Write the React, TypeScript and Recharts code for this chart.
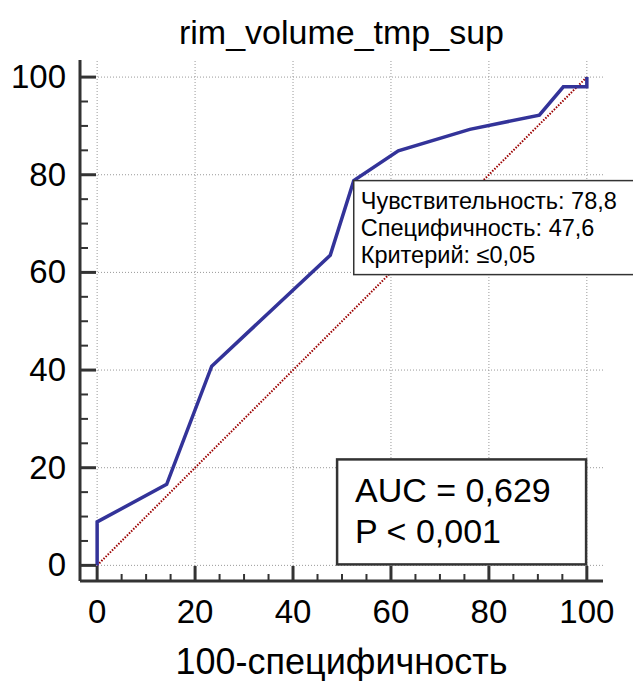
import React from "react";
import { LineChart, Line, XAxis, YAxis, ReferenceLine, ReferenceDot, Label } from "recharts";

// ROC curve: 100-specificity (x) vs sensitivity (y)
const rocX = [0, 0, 14.2, 23.4, 47.6, 52.4, 61.5, 76.1, 90.3, 95.2, 100, 100];
const rocY = [0, 8.9, 16.6, 40.8, 63.5, 78.8, 84.9, 89.3, 92.2, 98.0, 98.0, 100];

const majorTicks = [0, 20, 40, 60, 80, 100];
const allTicks = [0, 5, 10, 15, 20, 25, 30, 35, 40, 45, 50, 55, 60, 65, 70, 75, 80, 85, 90, 95, 100];

const title = "rim_volume_tmp_sup";
const xLabel = "100-специфичность";
const cutoffX = 52.4;
const cutoffY = 78.8;
const cutoffLines = ["Чувствительность: 78,8", "Специфичность: 47,6", "Критерий: ≤0,05"];
const aucLines = ["AUC = 0,629", "P < 0,001"];
const aucBoxX = 49;
const aucBoxY = 21.7;

const data = rocX.map((x, i) => ({ fpr: x, tpr: rocY[i] }));

const FONT = "'Liberation Sans', Arial, sans-serif";
const AXIS = "#333333";

function YTick(props: any) {
  const { x, y, payload } = props;
  const major = payload.value % 20 === 0;
  return (
    <g>
      <line x1={x} x2={x + (major ? 16 : 8)} y1={y} y2={y} stroke={AXIS} strokeWidth={major ? 3 : 2} />
      {major && (
        <text x={x - 14} y={y + 11} textAnchor="end" fontSize={33} fontFamily={FONT} fill="#000">
          {payload.value}
        </text>
      )}
    </g>
  );
}

function XTick(props: any) {
  const { x, y, payload } = props;
  const major = payload.value % 20 === 0;
  return (
    <g>
      <line x1={x} x2={x} y1={y} y2={y - (major ? 15 : 7)} stroke={AXIS} strokeWidth={major ? 3 : 2} />
      {major && (
        <text x={x} y={y + 42} textAnchor="middle" fontSize={33} fontFamily={FONT} fill="#000">
          {payload.value}
        </text>
      )}
    </g>
  );
}

function CutoffBox(props: any) {
  const { cx, cy } = props;
  return (
    <g>
      <rect x={cx} y={cy} width={300} height={94} fill="#fff" stroke={AXIS} strokeWidth={1.5} />
      {cutoffLines.map((t, i) => (
        <text key={i} x={cx + 7} y={cy + 28 + i * 27} fontSize={23.5} fontFamily={FONT} fill="#000">
          {t}
        </text>
      ))}
    </g>
  );
}

function AucBox(props: any) {
  const { cx, cy } = props;
  return (
    <g>
      <rect x={cx} y={cy} width={249} height={105} fill="#fff" stroke={AXIS} strokeWidth={2.5} />
      {aucLines.map((t, i) => (
        <text key={i} x={cx + 18} y={cy + 43 + i * 41} fontSize={34} fontFamily={FONT} fill="#000">
          {t}
        </text>
      ))}
    </g>
  );
}

export default function App() {
  return (
    <div style={{ position: "absolute", left: 0, top: 0, width: 633, height: 681, background: "#fff" }}>
      <div
        style={{
          position: "absolute",
          left: 80,
          top: 15,
          width: 523,
          textAlign: "center",
          fontFamily: FONT,
          fontSize: 34,
          lineHeight: "34px",
          color: "#000",
        }}
      >
        {title}
      </div>
      <LineChart width={633} height={681} data={data} margin={{ top: 60, right: 30, bottom: 0, left: 0 }}>
        <XAxis
          dataKey="fpr"
          type="number"
          domain={[-3.5, 103.3]}
          allowDataOverflow
          ticks={allTicks}
          interval={0}
          tickSize={0}
          tickMargin={0}
          tick={<XTick />}
          height={100}
          axisLine={{ stroke: AXIS, strokeWidth: 3 }}
        >
          <Label
            content={(p: any) => (
              <text
                x={p.viewBox.x + p.viewBox.width / 2}
                y={p.viewBox.y + 93}
                textAnchor="middle"
                fontSize={36}
                fontFamily={FONT}
                fill="#000"
              >
                {xLabel}
              </text>
            )}
          />
        </XAxis>
        <YAxis
          type="number"
          domain={[-3.2, 103.5]}
          allowDataOverflow
          ticks={allTicks}
          interval={0}
          tickSize={0}
          tickMargin={0}
          tick={<YTick />}
          width={80}
          axisLine={{ stroke: AXIS, strokeWidth: 3 }}
        />
        {majorTicks.map((v) => (
          <ReferenceLine key={"gx" + v} x={v} stroke="#999" strokeWidth={1} strokeDasharray="1 2" />
        ))}
        {majorTicks.map((v) => (
          <ReferenceLine key={"gy" + v} y={v} stroke="#999" strokeWidth={1} strokeDasharray="1 2" />
        ))}
        <ReferenceLine
          segment={[
            { x: 0, y: 0 },
            { x: 100, y: 100 },
          ]}
          stroke="#9b0000"
          strokeWidth={2}
          strokeDasharray="1.5 1.5"
        />
        <Line
          type="linear"
          dataKey="tpr"
          stroke="#333399"
          strokeWidth={3.5}
          dot={false}
          isAnimationActive={false}
        />
        <ReferenceDot x={cutoffX} y={cutoffY} shape={(p: any) => <CutoffBox {...p} />} />
        <ReferenceDot x={aucBoxX} y={aucBoxY} shape={(p: any) => <AucBox {...p} />} />
      </LineChart>
    </div>
  );
}
